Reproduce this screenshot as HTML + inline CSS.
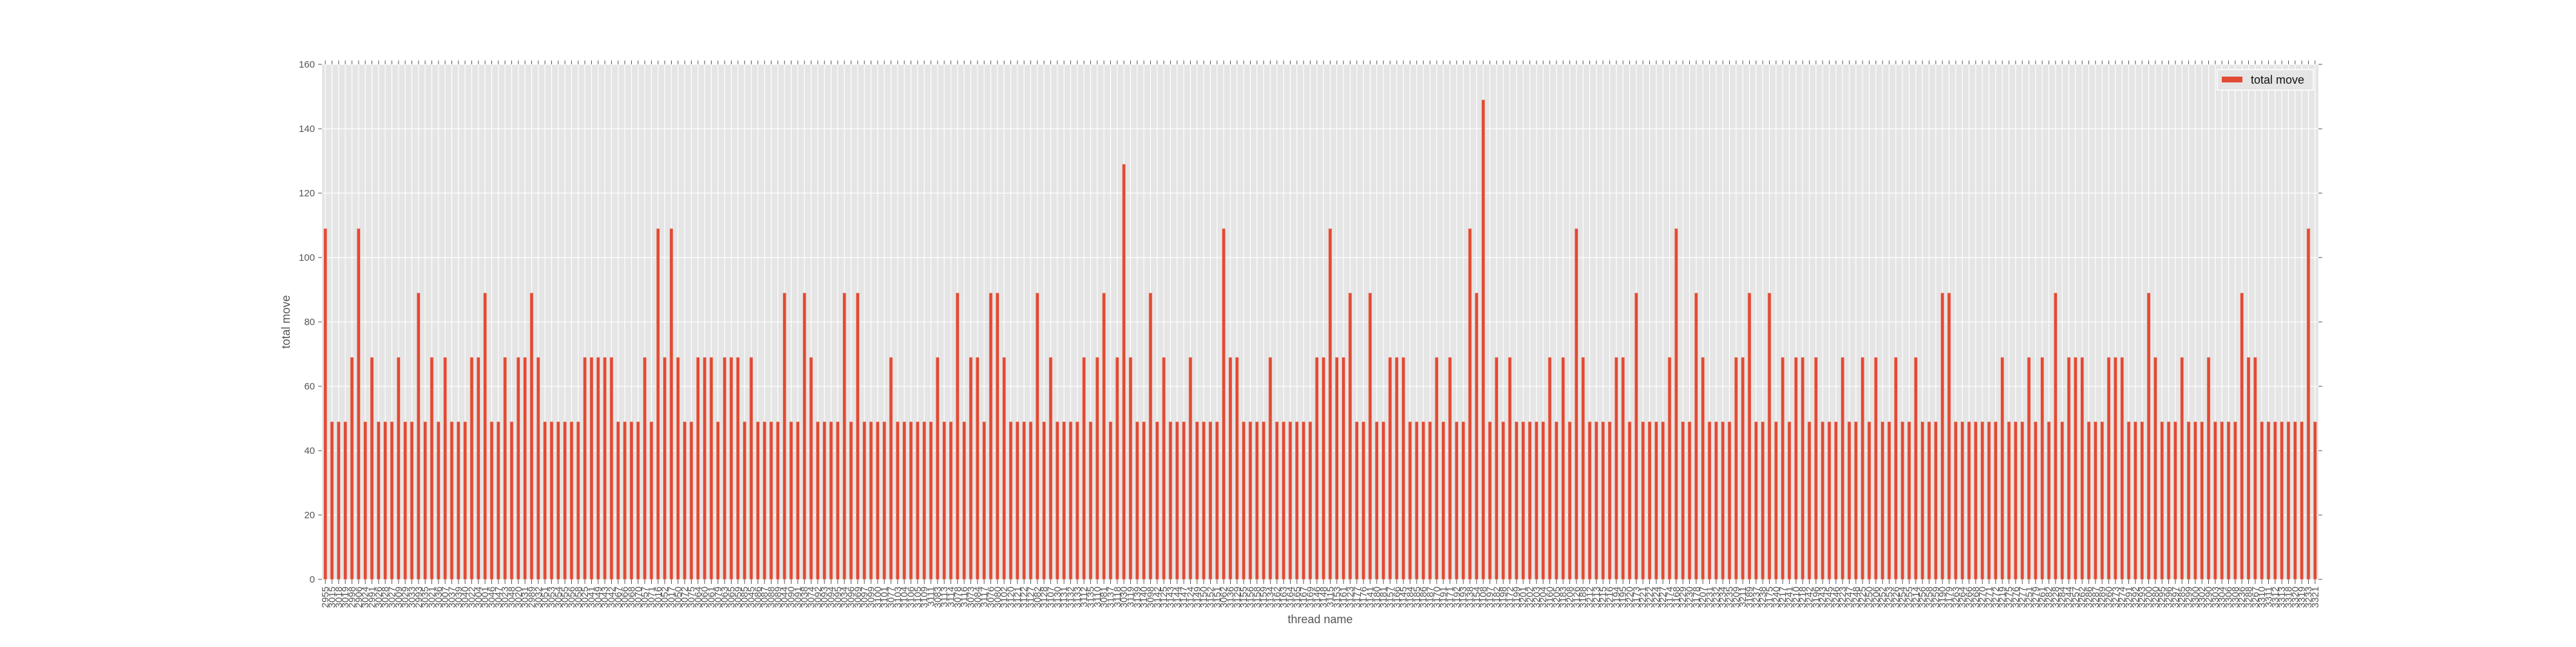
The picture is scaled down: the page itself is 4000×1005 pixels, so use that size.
<!DOCTYPE html>
<html><head><meta charset="utf-8"><style>
html,body{margin:0;padding:0;background:#fff;}
svg text{font-family:"Liberation Sans","DejaVu Sans",sans-serif;}
</style></head><body>
<svg id="chart" width="4000" height="1000" viewBox="0 0 4000 1000" xmlns="http://www.w3.org/2000/svg">
<rect x="500" y="100" width="3100" height="800" fill="#e5e5e5"/>
<g id="grid"></g>
<g id="bars"></g>
<g id="xaxis"></g>
<g id="yaxis"></g>
<text x="0" y="0" transform="translate(450,500) rotate(-90)" text-anchor="middle" font-size="18" fill="#555">total move</text>
<text x="2050" y="968" text-anchor="middle" font-size="18" fill="#555">thread name</text>
<g>
<rect x="3443" y="108" width="149" height="32" fill="#e5e5e5" stroke="#fff" stroke-width="1.5"/>
<rect x="3450" y="119" width="32" height="9" fill="#e24a33"/>
<text x="3495" y="130" font-size="18" fill="#111">total move</text>
</g>
</svg>
<script>
const categories = ["2955","3015","3018","3019","2998","2906","3024","2991","3026","3028","3027","3009","3029","3033","2993","3035","3021","3036","3007","3037","3039","3040","3022","3004","3001","3046","3047","3023","3048","3020","3031","2989","3032","3051","3053","3054","3055","3056","3058","3025","3041","3049","3043","3042","3067","3066","3068","3070","3057","3071","3016","3052",
"3017","3050","3072","3075","3064","3060","3061","3079","3063","3065","3059","3085","3045","3086","3087","3088","3089","3044","3090","3091","3038","3074","3092","3093","3094","3095","3034","3096","3069","3097","3099","3100","3101","3077","3103","3104",
"3106","3105","3109","3111","3083","3113","3114","3078","3116","3073","3084","3117","3076","3080","3102","3120","3121","3122","3127","3082","3128","3107","3130","3131","3132","3133","3112","3135","3110","3081","3137","3118","3030","3119","3139","3140","3098",
"3142","3125","3143","3144","3147","3124","3149","3150","3152","3151","3062","3136","3129","3155","3156","3158","3159","3134","3162","3163","3164","3165","3167","3169","3146","3148","3115","3153","3161","3123","3177","3176","3141","3180","3181","3157","3166",
"3145","3184","3185","3186","3187","3170","3191","3171","3192","3193","3138","3154","3108","3197","3182","3198","3172","3199","3201","3202","3203","3204","3160","3205","3183","3208","3126","3188","3212","3213","3215","3216","3194","3195","3220","3173",
"3221","3222","3224","3227","3174","3168","3229","3230","3178","3207","3231","3232","3234","3235","3209","3211","3189","3237","3238","3175","3240","3217","3241","3210","3218","3242","3196","3243","3245","3246","3223","3247","3248","3225","3250","3206","3252",
"3253","3226","3254","3255","3214","3256","3258","3259","3190","3179","3263","3264","3266","3268","3270","3271","3272","3219","3275","3276","3277","3251","3279","3261","3282","3228","3284","3244","3257","3262","3286","3287","3289","3260","3273","3274","3291",
"3292","3293","3200","3280","3295","3296","3297","3285","3299","3300","3302","3290","3303","3304","3306","3308","3236","3288","3267","3310","3311","3312","3313","3318","3320","3319","3233","3321"];
const totalMove = [109,49,49,49,69,109,49,69,49,49,49,69,49,49,89,49,69,49,69,49,49,49,69,69,89,49,49,69,49,69,69,89,69,49,49,49,49,49,49,69,69,69,69,69,49,49,49,49,69,49,109,69,
109,69,49,49,69,69,69,49,69,69,69,49,69,49,49,49,49,89,49,49,89,69,49,49,49,49,89,49,89,49,49,49,49,69,49,49,
49,49,49,49,69,49,49,89,49,69,69,49,89,89,69,49,49,49,49,89,49,69,49,49,49,49,69,49,69,89,49,69,129,69,49,49,89,
49,69,49,49,49,69,49,49,49,49,109,69,69,49,49,49,49,69,49,49,49,49,49,49,69,69,109,69,69,89,49,49,89,49,49,69,69,
69,49,49,49,49,69,49,69,49,49,109,89,149,49,69,49,69,49,49,49,49,49,69,49,69,49,109,69,49,49,49,49,69,69,49,89,
49,49,49,49,69,109,49,49,89,69,49,49,49,49,69,69,89,49,49,89,49,69,49,69,69,49,69,49,49,49,69,49,49,69,49,69,49,
49,69,49,49,69,49,49,49,89,89,49,49,49,49,49,49,49,69,49,49,49,69,49,69,49,89,49,69,69,69,49,49,49,69,69,69,49,
49,49,89,69,49,49,49,69,49,49,49,69,49,49,49,49,89,69,69,49,49,49,49,49,49,49,109,49];
const yTicks = [0,20,40,60,80,100,120,140,160];

const NS="http://www.w3.org/2000/svg";
const X0=500,X1=3600,Y0=900,Y1=100,YMAX=160;
const n=categories.length, step=(X1-X0)/n;
function xPos(i){return X0+(i+0.5)*step;}
function yPos(v){return Y0-(v/YMAX)*(Y0-Y1);}
function mk(tag,attrs,parent){const e=document.createElementNS(NS,tag);for(const k in attrs)e.setAttribute(k,attrs[k]);parent.appendChild(e);return e;}
const grid=document.getElementById('grid'),bars=document.getElementById('bars'),xa=document.getElementById('xaxis'),ya=document.getElementById('yaxis');
yTicks.forEach(t=>{
  const y=yPos(t);
  const g=mk('line',{x1:X0,x2:X1,y1:y,y2:y,stroke:'#fff','stroke-width':1.2},grid);
  
  
  const tl=mk('line',{x1:X0-6,x2:X0,y1:y,y2:y,stroke:'#555','stroke-width':1},ya);
  
  
  const tr=mk('line',{x1:X1,x2:X1+6,y1:y,y2:y,stroke:'#555','stroke-width':1},ya);
  
  
  const tx=mk('text',{x:X0-11,y:y+5,'text-anchor':'end','font-size':15,fill:'#555'},ya);
  tx.textContent=String(t);
  
  
});
categories.forEach((c,i)=>{
  const x=xPos(i);
  const g=mk('line',{x1:x,x2:x,y1:Y1,y2:Y0,stroke:'#fff','stroke-width':1.2},grid);
  
  
  const v=totalMove[i];
  const w=step*0.5;
  const r=mk('rect',{x:x-w/2,y:yPos(v),width:w,height:Y0-yPos(v),fill:'#e24a33',stroke:'#f0c8c0','stroke-width':0.6},bars);
  
  
  const tb=mk('line',{x1:x,x2:x,y1:Y0,y2:Y0+7,stroke:'#555','stroke-width':1},xa);
  
  
  const tt=mk('line',{x1:x,x2:x,y1:Y1-6,y2:Y1,stroke:'#555','stroke-width':1},xa);
  
  
  const lb=mk('text',{x:0,y:0,transform:'translate('+(x+5)+','+(Y0+11)+') rotate(-90)','text-anchor':'end','font-size':15,fill:'#555'},xa);
  lb.textContent=c;
  
  
});
</script>
</body></html>
